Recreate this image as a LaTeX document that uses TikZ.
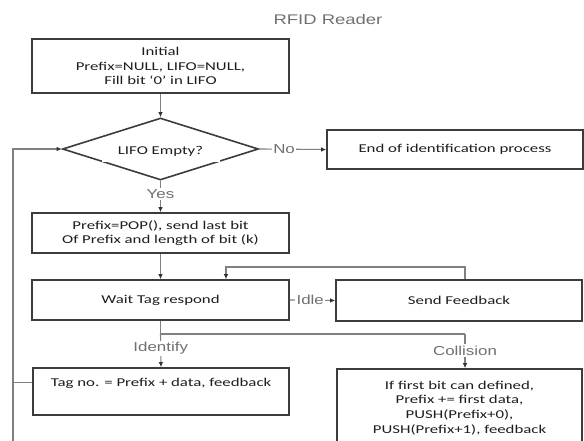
\documentclass[tikz,border=0pt]{standalone}
\usepackage{fontspec}
\usetikzlibrary{shapes.geometric,arrows.meta}
\newfontfamily\boxfont[FakeStretch=1.4]{Carlito}
\newfontfamily\labfont[FakeStretch=1.3]{Liberation Sans}
\newfontfamily\titfont[FakeStretch=1.32]{Liberation Sans}
\definecolor{boxline}{HTML}{3C3C3C}
\definecolor{boxtext}{HTML}{1E1E1E}
\definecolor{connline}{HTML}{808080}
\definecolor{tipcol}{HTML}{333333}
\definecolor{labtext}{HTML}{707070}
\begin{document}
\begin{tikzpicture}[x=1pt,y=-1pt,
  box/.style={draw=boxline, line width=1.6pt, rectangle, inner sep=0pt,
    font=\boxfont\fontsize{12}{14.7}\selectfont, text=boxtext, align=center},
  boxtxt/.style={inner sep=0pt, font=\boxfont\fontsize{12}{14.7}\selectfont, text=boxtext, align=center},
  conn/.style={draw=connline, line width=1.1pt},
  arr/.style={conn, -{Latex[length=5pt,width=4.5pt,color=tipcol]}},
  lab/.style={font=\labfont\fontsize{13}{15}\selectfont, text=labtext, fill=white, inner sep=1.5pt},
]
\useasboundingbox (0,0) rectangle (584,441);
\fill[white] (0,0) rectangle (584,441);

% title
\node[font=\titfont\fontsize{14}{16}\selectfont, text=labtext] (title) at (328,19) {RFID Reader};

% boxes
\node[box, minimum width=257pt, minimum height=54pt] (init) at (160.5,66)
  {Initial\\Prefix=NULL, LIFO=NULL,\\Fill bit ‘0’ in LIFO};
\node[draw=boxline, line width=1.6pt, shape=diamond, inner sep=0pt,
  minimum width=196pt, minimum height=62pt] (dec) at (160.5,149) {};
\node[boxtxt, fill=white, minimum width=118pt, minimum height=22pt] (dectxt) at (160.5,151) {LIFO Empty?};
\node[box, minimum width=256pt, minimum height=39pt] (endp) at (455,149.5)
  {End of identification process};
\node[box, minimum width=257pt, minimum height=40pt] (pop) at (160.5,233)
  {Prefix=POP(), send last bit\\Of Prefix and length of bit (k)};
\node[box, minimum width=257pt, minimum height=40pt] (wait) at (160.5,300)
  {Wait Tag respond};
\node[box, minimum width=246pt, minimum height=41pt] (send) at (459,300.5)
  {Send Feedback};
\node[box, minimum width=256pt, minimum height=47pt] (tag) at (161,391.5) {};
\node[boxtxt] (tagtxt) at (161,383) {Tag no. = Prefix + data, feedback};
\begin{scope}
  \clip (0,0) rectangle (584,441);
  \node[box, minimum width=245pt, minimum height=78pt] (coll) at (459.5,408)
    {If first bit can defined,\\Prefix += first data,\\PUSH(Prefix+0),\\PUSH(Prefix+1), feedback};
\end{scope}

% helper coordinates
\coordinate (fbr) at (465,267);
\coordinate (fbl) at (226,267);
\coordinate (split) at (160.5,334);
\coordinate (splitr) at (465,334);
\coordinate (lb) at (13,441);
\coordinate (lt) at (13,149);

% connectors
\draw[arr] (init.south) -- (dec.north);
\draw[arr] (dec.east) -- node[lab, pos=0.37] {No} (endp.west);
\draw[arr] (dec.south) -- node[lab, pos=0.42] {Yes} (pop.north);
\draw[arr] (pop.south) -- (wait.north);
\draw[arr] (wait.east) -- node[lab, pos=0.45] {Idle} (send.west);
\draw[arr] (fbr |- send.north) -- (fbr) -- (fbl) -- (fbl |- wait.north);
\draw[conn] (wait.south) -- (split) -- (splitr);
\draw[arr] (split) -- node[lab, pos=0.44] {Identify} (tag.north);
\draw[arr] (splitr) -- node[lab, pos=0.49] {Collision} (splitr |- coll.north);
\draw[arr] (lb) -- (lt) -- (dec.west);
\draw[conn] ([yshift=9pt]tag.west) -- ([yshift=9pt]tag.west -| lb);
\end{tikzpicture}
\end{document}
